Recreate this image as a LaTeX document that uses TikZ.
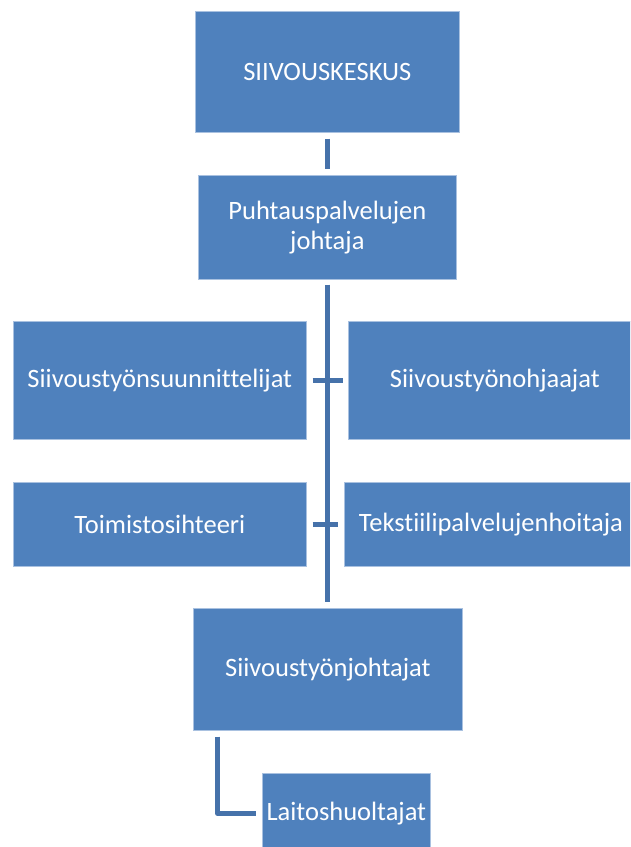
\documentclass[tikz,border=0pt]{standalone}
\usepackage{fontspec}
\setmainfont{Carlito}[Ligatures=NoCommon]
\definecolor{boxblue}{HTML}{4F81BD}
\definecolor{boxedge}{HTML}{A9C1E0}
\definecolor{linkblue}{HTML}{4672AA}
\begin{document}
\begin{tikzpicture}[x=1pt,y=-1pt,
  unit/.style={rectangle, fill=boxblue, draw=boxedge, line width=0.7pt,
    text=white, font=\fontsize{26.5}{30}\selectfont, align=center,
    inner sep=0pt, anchor=north west},
  link/.style={draw=linkblue, line width=5pt, line join=round}]
\useasboundingbox (0,0) rectangle (630,847);
\clip (0,0) rectangle (630,847);
\fill[white] (0,0) rectangle (630,847);

% organisation units
\node[unit, minimum width=264pt, minimum height=121pt] (top) at (195,11) {SIIVOUSKESKUS};
\node[unit, minimum width=258pt, minimum height=104pt] (mgr) at (198,175) {Puhtauspalvelujen\\johtaja};
\node[unit, minimum width=293pt, minimum height=118pt] (plan) at (13,321) {Siivoustyönsuunnittelijat};
\node[unit, minimum width=293pt, minimum height=118pt] (guide) at (348,321) {Siivoustyönohjaajat};
\node[unit, minimum width=293pt, minimum height=84pt] (office) at (13,482) {Toimistosihteeri};
\node[unit, minimum width=293pt, minimum height=84pt] (textile) at (344,482) {Tekstiilipalvelujenhoitaja};
\node[unit, minimum width=269pt, minimum height=122pt] (lead) at (193,608) {Siivoustyönjohtajat};
\node[unit, minimum width=168pt, minimum height=80pt] (staff) at (262,773) {Laitoshuoltajat};

% reporting lines
\draw[link, shorten <=6pt, shorten >=6pt] (top.south) -- (mgr.north);
\draw[link, shorten <=5pt, shorten >=6pt] (mgr.south) -- (mgr.south |- lead.north);
\draw[link, shorten <=6pt, shorten >=5pt] (plan.east) -- (guide.west);
\draw[link, shorten <=6pt, shorten >=6pt] (office.east) -- (textile.west);
\coordinate (elb) at (217.5,813);
\draw[link, shorten <=6pt, shorten >=6pt] (lead.south -| elb) |- (staff.west);
\end{tikzpicture}
\end{document}
